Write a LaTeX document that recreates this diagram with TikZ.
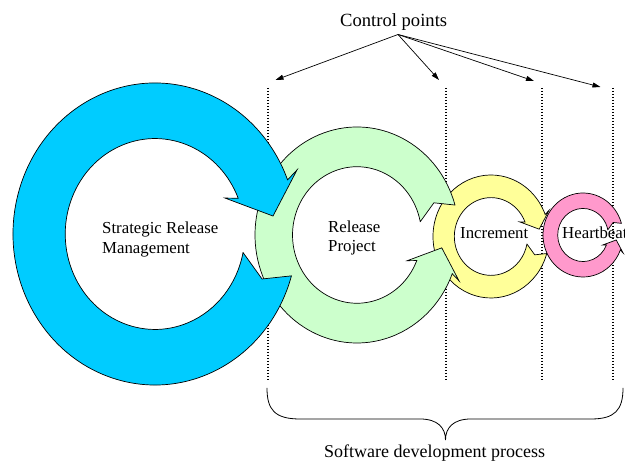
\documentclass[tikz,border=0pt]{standalone}
\usepackage{fontspec}
\setmainfont{Liberation Serif}
\usetikzlibrary{arrows.meta}

\definecolor{srmblue}{RGB}{0,204,255}
\definecolor{rpgreen}{RGB}{204,255,204}
\definecolor{incyellow}{RGB}{255,255,153}
\definecolor{hbpink}{RGB}{255,153,204}

\tikzset{
  ringline/.style={draw=black, line width=0.7pt, line join=miter},
  cpline/.style={line width=1.6pt, dash pattern=on 1.5pt off 1.5pt},
  pointer/.style={line width=0.7pt, -{Triangle[length=8pt,width=5pt]}},
  lbl/.style={inner sep=0pt, font=\fontsize{16.8}{19.5}\selectfont, align=left},
  captext/.style={inner sep=0pt, font=\fontsize{18.6}{22}\selectfont},
}

% One cycle arrow: unit-ellipse outline scaled to the ring.
% #1 centre x, #2 centre y, #3 x radius, #4 signed y radius (negative = mirrored), #5 fill
\newcommand{\cyclering}[5]{%
  \begin{scope}[shift={(#1,#2)}, xscale=#3, yscale=#4]
    \path[ringline, fill=#5]
      (0.9608,-0.2773) arc[start angle=-16.1, end angle=-339, radius=1pt]
      -- (1.0,0.424) -- (0.831,0.119) -- (0.493,0.238) -- (0.586,0.2367)
      arc[start angle=22, end angle=348.8, radius=0.632pt]
      -- (0.620,-0.1228) -- (0.754,-0.298) -- cycle;
  \end{scope}}

\begin{document}
\begin{tikzpicture}[x=1pt, y=1pt]
  \useasboundingbox (0,0) rectangle (625,470);
  \fill[white] (0,0) rectangle (625,470);

  % control point markers
  \coordinate (d1t) at (268,382); \coordinate (d1b) at (268,90);
  \coordinate (d2t) at (446,382); \coordinate (d2b) at (446,90);
  \coordinate (d3t) at (542,382); \coordinate (d3b) at (542,90);
  \coordinate (d4t) at (613,382); \coordinate (d4b) at (613,90);
  \draw[cpline] (d1t) -- (d1b);
  \draw[cpline] (d2t) -- (d2b);
  \draw[cpline] (d3t) -- (d3b);
  \draw[cpline] (d4t) -- (d4b);

  % cycles, innermost level first so the larger ones lie on top
  \cyclering{583}{235}{40}{-42}{hbpink}
  \cyclering{491}{233.5}{58}{61.5}{incyellow}
  \cyclering{357}{235}{102}{-108}{rpgreen}
  \cyclering{155}{236}{142}{151}{srmblue}

  % labels (base anchor sits on the last line)
  \node[lbl, anchor=base west] (srm) at (102,216.8) {Strategic Release\\Management};
  \node[lbl, anchor=base west] (rp) at (328,218) {Release\\Project};
  \node[lbl, anchor=base west] (inc) at (460,231.5) {Increment};
  \node[lbl, anchor=base west] (hb) at (562,231.7) {Heartbeat};

  % control points callout
  \node[captext, anchor=base west] (cp) at (340,443.3) {Control points};
  \coordinate (src) at (398,435.5);
  \coordinate (t1) at (275.5,390);
  \coordinate (t2) at (439,390);
  \coordinate (t3) at (534,389);
  \coordinate (t4) at (600.5,383);
  \draw[pointer] (src) -- (t1);
  \draw[pointer] (src) -- (t2);
  \draw[pointer] (src) -- (t3);
  \draw[pointer] (src) -- (t4);

  % brace under the development levels
  \coordinate (bl) at (267,82);
  \coordinate (br) at (623,82);
  \coordinate (bm) at (445.5,30);
  \draw[line width=0.8pt] (bl) .. controls (267,60) and (275,51) .. (300,51)
    -- (420,51) .. controls (438,51) and (445.5,42) .. (bm)
    .. controls (445.5,42) and (453,51) .. (471,51)
    -- (591,51) .. controls (615,51) and (623,60) .. (br);
  \node[captext, anchor=base west, font=\fontsize{18}{22}\selectfont] (sdp) at (324,12) {Software development process};
\end{tikzpicture}
\end{document}
